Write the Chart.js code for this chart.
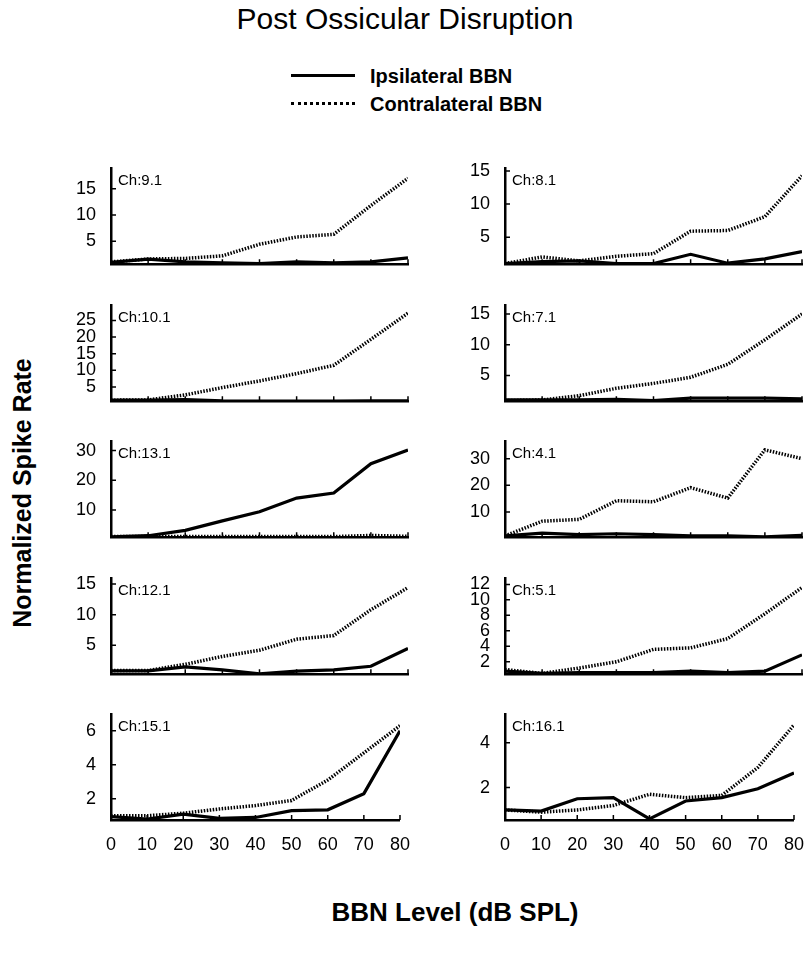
<!DOCTYPE html>
<html><head><meta charset="utf-8">
<script src="https://cdn.jsdelivr.net/npm/chart.js@4/dist/chart.umd.min.js"></script>
<style>
body{margin:0;background:#fff;}
#wrap{position:relative;width:810px;height:970px;overflow:hidden;font-family:"Liberation Sans",Arial,sans-serif;color:#000;background:#fff;}
.abs{position:absolute;white-space:nowrap;}
canvas{position:absolute;}
</style></head><body><div id="wrap">
<div class="abs" style="left:0;width:810px;top:1px;text-align:center;font-size:30px;line-height:36px;">Post Ossicular Disruption</div>
<div class="abs" style="left:291px;top:74px;width:64px;border-top:3px solid #000"></div>
<div class="abs" style="left:370px;top:64px;font-weight:bold;font-size:20px;line-height:24px">Ipsilateral BBN</div>
<div class="abs" style="left:291px;top:102px;width:64px;border-top:3px dotted #000"></div>
<div class="abs" style="left:370px;top:92px;font-weight:bold;font-size:20px;line-height:24px">Contralateral BBN</div>
<div class="abs" style="left:22px;top:493px;transform:translate(-50%,-50%) rotate(-90deg);font-weight:bold;font-size:25px;">Normalized Spike Rate</div>
<div class="abs" style="left:455px;top:912px;transform:translate(-50%,-50%);font-weight:bold;font-size:26px;">BBN Level (dB SPL)</div>
</div>
<script>
const levels = [0,10,20,30,40,50,60,70,80];
const channels = ['Ch:9.1','Ch:8.1','Ch:10.1','Ch:7.1','Ch:13.1','Ch:4.1','Ch:12.1','Ch:5.1','Ch:15.1','Ch:16.1'];

const ipsi_9_1   = [0.95,1.55,1.05,0.85,0.7,1.05,0.85,1.05,1.8];
const contra_9_1 = [1.05,1.6,1.7,2.2,4.4,5.8,6.3,11.8,17.0];
const ipsi_8_1   = [1.0,1.3,1.4,1.0,1.0,2.4,1.05,1.7,2.8];
const contra_8_1 = [1.0,2.0,1.4,2.1,2.5,5.9,6.0,8.1,14.3];
const ipsi_10_1   = [1.0,1.0,1.2,0.8,0.75,0.75,0.75,0.8,0.8];
const contra_10_1 = [1.0,1.1,2.6,4.8,6.8,9.0,11.5,19.3,27.2];
const ipsi_7_1   = [1.0,1.0,1.0,1.1,0.9,1.3,1.3,1.3,1.2];
const contra_7_1 = [0.9,1.0,1.7,2.9,3.7,4.7,6.8,10.8,15.0];
const ipsi_13_1   = [0.9,1.3,3.1,6.3,9.4,14.0,15.7,25.6,30.2];
const contra_13_1 = [1.0,1.0,1.0,1.0,1.0,1.0,1.0,1.4,1.1];
const ipsi_4_1   = [1.0,2.0,1.5,1.8,1.5,1.0,1.0,0.6,1.2];
const contra_4_1 = [1.0,6.5,7.2,14.2,13.8,19.1,15.2,33.3,30.0];
const ipsi_12_1   = [0.85,0.85,1.5,1.0,0.35,0.8,1.0,1.6,4.5];
const contra_12_1 = [0.9,0.9,1.9,3.2,4.2,6.0,6.6,10.8,14.4];
const ipsi_5_1   = [0.8,0.5,0.6,0.6,0.6,0.8,0.6,0.8,2.9];
const contra_5_1 = [1.0,0.5,1.2,2.0,3.6,3.8,5.0,8.2,11.6];
const ipsi_15_1   = [0.95,0.8,1.1,0.85,0.9,1.3,1.35,2.3,6.0];
const contra_15_1 = [1.0,1.0,1.15,1.4,1.6,1.9,3.1,4.7,6.3];
const ipsi_16_1   = [1.0,0.95,1.5,1.55,0.6,1.4,1.55,1.95,2.65];
const contra_16_1 = [1.0,0.9,1.0,1.2,1.7,1.55,1.65,2.9,4.8];

const ipsiSeries   = [ipsi_9_1,ipsi_8_1,ipsi_10_1,ipsi_7_1,ipsi_13_1,ipsi_4_1,ipsi_12_1,ipsi_5_1,ipsi_15_1,ipsi_16_1];
const contraSeries = [contra_9_1,contra_8_1,contra_10_1,contra_7_1,contra_13_1,contra_4_1,contra_12_1,contra_5_1,contra_15_1,contra_16_1];

const yTickLabels = [[5,10,15],[5,10,15],[5,10,15,20,25],[5,10,15],[10,20,30],[10,20,30],[5,10,15],[2,4,6,8,10,12],[2,4,6],[2,4]];
const yMins = [0.6,0.9,0.7,0.8,0.8,0.5,0.3,0.4,0.75,0.55];
const yMaxs = [19,15.5,29.7,16.5,33.3,36.7,16,12.85,7,5.3];
const xTickLabels = [0,10,20,30,40,50,60,70,80];

const inwardTicks = {
  id:'inwardTicks',
  afterDraw(chart){
    const ctx = chart.ctx, a = chart.chartArea, xs = chart.scales.x, ys = chart.scales.y;
    ctx.save(); ctx.strokeStyle='#000'; ctx.lineWidth=1.5;
    ctx.beginPath();
    xTickLabels.forEach(v=>{const px=xs.getPixelForValue(v); ctx.moveTo(px,a.bottom); ctx.lineTo(px,a.bottom-5);});
    chart.options.plugins.inwardTicks.yt.forEach(v=>{const py=ys.getPixelForValue(v); ctx.moveTo(a.left,py); ctx.lineTo(a.left+5,py);});
    ctx.stroke(); ctx.restore();
  }
};

const wrap = document.getElementById('wrap');
const PH = 116, pitch = 136.5, top0 = 158;
channels.forEach((name,i)=>{
  const col = i%2, row = Math.floor(i/2);
  const plotLeft = col ? 505 : 111, plotRight = col ? 802 : 408;
  const plotTop = Math.round(top0 + row*pitch);
  const yW = 71, padT = 8, padR = 8, xH = row===4 ? 40 : 8;
  const cv = document.createElement('canvas');
  const W = plotRight-plotLeft+yW+padR, H = PH+padT+xH;
  cv.width = W; cv.height = H;
  cv.style.left = (plotLeft-yW)+'px'; cv.style.top = (plotTop-padT)+'px';
  cv.style.width = W+'px'; cv.style.height = H+'px';
  wrap.appendChild(cv);
  const lab = document.createElement('div');
  lab.className='abs'; lab.textContent=name;
  lab.style.cssText += `left:${plotLeft+7}px;top:${plotTop+13}px;font-size:15px;line-height:18px;`;
  wrap.appendChild(lab);
  const yt = yTickLabels[i];
  new Chart(cv,{
    type:'line',
    data:{datasets:[
      {label:'Contralateral BBN',data:levels.map((x,k)=>({x,y:contraSeries[i][k]})),borderColor:'#000',borderWidth:3.5,borderDash:[1.5,1.5],pointRadius:0,tension:0,fill:false},
      {label:'Ipsilateral BBN',data:levels.map((x,k)=>({x,y:ipsiSeries[i][k]})),borderColor:'#000',borderWidth:3.2,pointRadius:0,tension:0,fill:false}
    ]},
    options:{
      responsive:false, animation:false, devicePixelRatio:1,
      layout:{padding:{top:padT,right:padR,left:0,bottom:0}},
      plugins:{legend:{display:false},tooltip:{enabled:false},inwardTicks:{yt}},
      scales:{
        x:{type:'linear',min:0,max:80,
          afterBuildTicks:s=>{s.ticks=xTickLabels.map(v=>({value:v}));},
          afterFit:s=>{s.height=xH;},
          grid:{display:false},border:{display:true,color:'#000',width:2.5},
          ticks:{display:row===4,color:'#000',font:{family:'Liberation Sans',size:18},padding:6,maxRotation:0,autoSkip:false}},
        y:{type:'linear',min:yMins[i],max:yMaxs[i],
          afterBuildTicks:s=>{s.ticks=yt.map(v=>({value:v}));},
          afterFit:s=>{s.width=yW;},
          grid:{display:false},border:{display:true,color:'#000',width:2.5},
          ticks:{color:'#000',font:{family:'Liberation Sans',size:18},padding:7,autoSkip:false}}
      }
    },
    plugins:[inwardTicks]
  });
});
</script></body></html>
